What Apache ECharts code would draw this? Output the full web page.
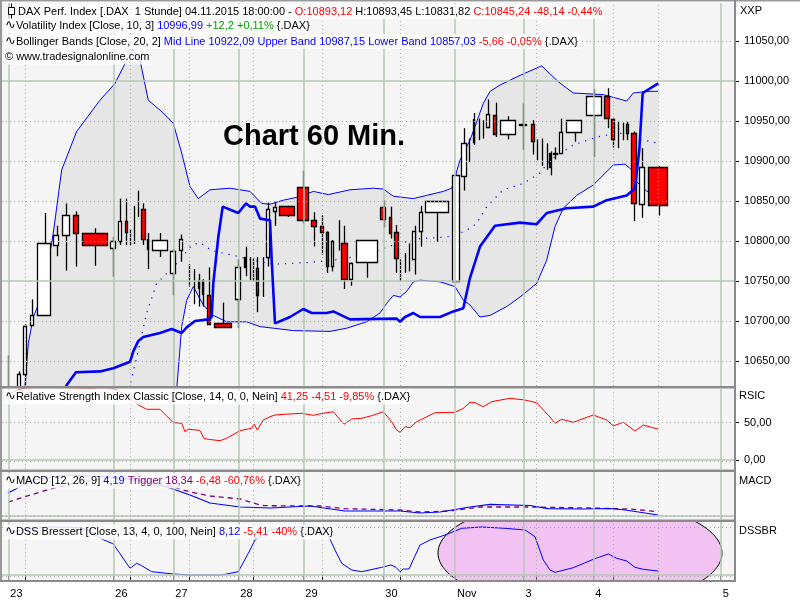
<!DOCTYPE html>
<html><head><meta charset="utf-8">
<script src="https://cdn.jsdelivr.net/npm/echarts@6/dist/echarts.min.js"></script>
<style>html,body{margin:0;padding:0;background:#ffffff}#c{width:800px;height:600px}</style>
</head><body><div id="c"></div><script>
// ---------- X axis (time position on the chart's time scale) ----------
const dayPos = [8.3, 113.3, 173.3, 238.3, 303.3, 383.3, 455, 523.5, 593.3, 720.7];
const dayLabels = ['23', '26', '27', '28', '29', '30', 'Nov', '3', '4', '5'];
const subPos = [25, 130, 189.3, 253.3, 322.3, 400, 536.7, 613.3, 658.3];

// ---------- Candles (60 min DAX) ----------
const barStart = [7.5,16.7,23.3,30.3,37.3,53.3,61.7,72.7,81.7,110.3,118.3,125,129.5,133.8,137.8,141,147,152.3,170.3,179.3,188.8,193.8,197.7,202.3,207.3,214.3,235.3,244.3,249.5,252.8,256,262.2,266,273.3,279.3,297.3,311.3,320,326,331,338.2,341,349.3,356,380.3,389,394,399.8,404.5,408.8,412.3,418.7,425.3,451.7,460.7,468.8,473.3,478.8,482.8,486.3,493.3,500.3,519.3,530.7,536.8,541.8,546.2,549.3,552.7,559.3,566.3,585.7,604.3,611,617.8,622.2,626,631.3,639.3,648.3];
const barEnd   = [8.5,20.7,27.3,34.3,51.7,59.7,69.7,78.7,107.3,116.3,122.3,127.7,130.5,134.8,138.8,145.7,149.3,168.3,176.3,183.3,189.8,194.8,199.7,204.3,211.3,232.3,241.3,246.7,250.5,253.8,258.7,263.2,270.3,277.3,295.7,309.3,317.3,324.3,328.7,333.7,339.2,347.7,353.3,378.3,386.7,392,398.7,400.8,405.5,409.8,416.7,422.7,449.3,459.3,466.7,469.8,475.3,479.8,483.8,490.3,497.7,516.3,527.3,534.3,537.8,542.8,547.2,551.7,557.3,563.3,582.7,601.7,610.7,615.3,618.8,623.2,628.7,637.3,645.3,668.7];
const opens  = [10600,10612,10634,10694,10707,10796,10808,10833,10810,10791,10800,10825,10812,10820,10840,10840,10802,10788,10761,10788,10760,10745,10741,10751,10733,10697,10727,10767,10765,10762,10766,10750,10780,10838,10844,10867,10826,10819,10811,10769,10805,10798,10753,10773,10843,10830,10811,10765,10772,10780,10777,10812,10836,10750,10882,10915,10923,10940,10940,10943,10958,10934,10946,10946,10915,10910,10905,10892,10910.5,10910,10936,10957,10981,10953,10935,10937,10946,10935,10847,10893.12];
const highs  = [10657,10637,10696,10727,10835,10819,10847,10837,10816,10805,10853,10853,10815,10844,10863,10847,10810,10810,10790,10808,10771,10765,10759,10752,10767,10723,10777,10793,10780,10778,10780,10780,10848,10849,10844,10888,10836,10832,10812,10801,10826,10819,10773,10801,10851,10843,10820,10777,10785,10797,10819,10844,10850,10883,10941,10928,10960,10953,10951,10977,10973,10956,10972,10951,10927,10928,10922,10912,10917,10953,10951,10990,10991,10953,10950,10948,10949,10937,10916,10893.45];
const lows   = [10590,10605,10620,10694,10707,10781,10763,10768,10769,10755,10795,10795,10795,10796,10830,10795,10765,10780,10732,10774,10743,10721,10718,10718,10695,10692,10691,10756,10751,10749,10711,10730,10768,10819,10830,10822,10793,10783,10760,10762,10788,10740,10744,10754,10817,10803,10760,10749,10760,10762,10758,10793,10799,10750,10863,10899,10920,10926,10928,10941,10930,10927,10914,10908,10901,10894,10889,10882,10902,10909,10924,10905,10941,10917,10916,10926,10926,10825,10829,10831.82];
const closes = [10608,10634,10694,10707,10797,10808,10833,10810,10795,10800,10825,10811,10813,10821,10841,10802,10789,10801,10788,10802,10759,10746,10751,10734,10697,10692,10767,10780,10766,10763,10732,10751,10840,10843,10833,10826,10819,10811,10768,10800,10806,10753,10773,10801,10828,10810,10778,10766,10773,10781,10812,10836,10850,10882,10923,10916,10952,10941,10941,10959,10934,10951,10946.5,10925,10916,10911,10906,10910,10910.4,10936,10951,10981,10953,10928,10936,10938,10935,10848,10893,10845.24];

// ---------- Bollinger Bands [Close,20,2] ----------
const upperBand = [[25,10618],[28.3,10672],[33.3,10705],[43.3,10735],[53.3,10810],[61.7,10889],[76.7,10937],[100,10976],[115,10997],[126.7,11026],[133,11039],[140,11026],[148.3,10976],[163.3,10960],[173.3,10947],[181.7,10910],[190,10868],[198.3,10853],[210,10864],[230,10866],[250,10862],[261.7,10847],[270,10846],[283.3,10851],[298.3,10855],[313.3,10862],[328.3,10858],[350,10864],[373.3,10866],[383.3,10865],[393.3,10856],[413.3,10853],[426.7,10857],[443.3,10862],[451.7,10866],[460,10901],[470,10926],[476.7,10949],[483.3,10972],[490,10987],[500,10995],[520,11007],[541.7,11019],[558.3,10999],[573.3,10985],[603.3,10983],[626.7,10975],[633.3,10985],[646.7,10987],[658.3,10987.15]];
const lowerBand = [[25,10450],[53,10400],[77,10330],[100,10270],[127,10220],[140,10300],[150,10450],[165,10550],[176.7,10614],[181.7,10693],[186.7,10726],[193.3,10743],[203.3,10720],[213.3,10707],[226.7,10699],[246.7,10699],[260,10693],[273.3,10691],[293.3,10688],[330,10687],[346.7,10691],[366.7,10699],[380,10710],[386.7,10722],[393.3,10732],[400,10730],[406.7,10737],[413.3,10749],[420,10751],[440,10749],[455,10743],[463.3,10726],[470,10720],[480,10705],[490,10707],[506.7,10718],[520,10730],[536.7,10747],[546.7,10776],[555,10818],[563.3,10841],[576.7,10857],[593.3,10870],[613.3,10895],[625,10896],[631.7,10889],[636.7,10874],[647,10862],[658.3,10857.03]];
const midBand = [[120,10590],[130,10620],[140,10672],[146.7,10710],[156.7,10747],[180,10776],[191.7,10795],[200,10798],[211.7,10788],[233.3,10782],[253.3,10776],[273.3,10771],[306.7,10773],[333.3,10776],[353.3,10780],[380,10789],[393.3,10795],[420,10803],[446.7,10805],[465,10812],[476.7,10822],[486.7,10843],[503.3,10864],[523.3,10872],[540,10885],[550,10901],[573.3,10920],[596.7,10930],[613.3,10934],[626.7,10935],[636.7,10928],[658.3,10922.09]];

// ---------- Volatility Index [Close,10,3] ----------
const volIndex = [[8,10540],[60,10600],[66.7,10620],[76,10636],[100,10637],[113.3,10641],[130,10649],[133.3,10662],[138.3,10675],[143.3,10680],[160,10685],[171.7,10690],[181.7,10685],[186.7,10692],[195,10700],[208.3,10702],[211.7,10705],[213.3,10747],[218.3,10805],[222.7,10843],[238.3,10835],[246,10847],[250,10843],[255,10843],[260,10828],[270,10826],[271.7,10776],[275,10697],[290,10705],[303.3,10715],[311.7,10710],[326.7,10710],[333.3,10712],[350,10702],[396.7,10703],[400,10699],[405,10705],[413.3,10710],[420,10705],[440,10705],[453.3,10712],[463.3,10716],[470,10754],[480,10793],[495,10819],[520,10823],[536.7,10821],[546.7,10835],[566.7,10841],[593.3,10843],[606.7,10851],[626.7,10857],[635,10866],[639.3,10914],[642.7,10985],[658.3,10996.99]];

// ---------- RSI Classic [Close,14] ----------
const rsi = [[8,88],[20,95],[30,97],[60,97],[90,96],[105,97],[113,96],[125,88],[138,74],[146.7,68],[160,68],[173.3,50],[181.7,49.2],[185,37.9],[188.3,41.2],[196.7,40.2],[200,39.3],[204,29.1],[208.3,27.7],[220,25.9],[226.7,29.1],[240,39.3],[251.7,42.5],[254,48.3],[257.3,40.2],[263.3,53.6],[270,58],[275,60.3],[285,61.3],[301.7,62.6],[313.3,59.9],[323.3,62.6],[333.3,64.7],[344,47.9],[351.7,55],[361.7,55.9],[371.7,59.4],[383.3,64.7],[391.7,51.3],[396.7,40.2],[400,37.1],[405,44.6],[410,43.3],[416.7,51.3],[435,63.4],[455,63.9],[463.3,69.3],[470,77.3],[475,76.8],[483.3,71.4],[491.7,78.2],[510,82.7],[525,80.4],[536.7,76.8],[543.3,67],[548.3,60.3],[555,49.2],[561.7,54.6],[573.3,50.5],[593.3,60.3],[606.7,53.6],[613.3,45.6],[623.3,50.5],[635,38.9],[643.3,46.9],[658.3,41.25]];

// ---------- MACD [12,26,9] ----------
const macd = [[8,98.7],[33,154.5],[67,176],[110,167.4],[150,145.9],[173,115.9],[190,90.1],[210,55.8],[240,38.6],[270,34.3],[310,42.9],[345,21.5],[400,21.5],[420,12.9],[440,17.2],[470,38.6],[490,50.2],[530,45],[548,31.3],[583,30],[610,32.2],[625,25.8],[645,12.9],[658,4.19]];
const trigger = [[8,60.1],[50,115.9],[80,146],[110,163],[140,160],[173,125],[190,103],[210,85.8],[240,73],[260,47.2],[265,44.2],[320,42.9],[345,31.3],[400,25.8],[420,17.2],[450,21.5],[480,38.6],[530,38.6],[548,37.3],[590,34.3],[630,30],[658,18.34]];

// ---------- DSS Bressert [Close,13,4] ----------
const dss = [[8,85],[25,96],[50,100],[80,99],[90,92],[100,76.5],[113.3,64.6],[130,14],[136.7,24.4],[141.7,19.4],[151.7,6.9],[173.3,2.1],[190,0],[221.7,0],[238.3,6.9],[248.3,45.2],[255,72.9],[263.3,83.3],[270,93.8],[285,100],[300,100],[315,99],[325,97.3],[335,52.1],[341.7,24.4],[351.7,10.4],[361.7,6.9],[381.7,16],[391,20.8],[396,16],[400,6.9],[403.3,12.5],[409,12.5],[420,62.5],[430,72.9],[445,83.3],[461.7,97.3],[481.7,100],[505,97.3],[525,93.8],[530,86.9],[535,79.8],[543.3,31.3],[550,10.4],[555,5.6],[573.3,15.2],[593.3,32.7],[608.3,43.8],[616.7,34.8],[626.7,29.2],[635,16],[643.3,11.9],[658.3,8.12]];
// highlight ellipse in DSS panel: [centre x, centre value, half width (x units), half height (DSS units)]
const dssHighlight = [[580, 45.8, 142, 112.5]];

// ---------- Axis ticks ----------
const priceTicks = [10650,10700,10750,10800,10850,10900,10950,11000,11050];
const priceSolid = [10750, 11000];
const priceDotted = [10650,10700,10800,10850,10900,10950,11050];
const rsiTicks = [0, 50];

// ================= rendering =================
const FONT = 'Liberation Sans';
const X_MIN = 2, X_MAX = 735;
const SOLID = {color:'#b5c7b5', width:1.5, type:'solid'};
const DOT = {color:'#a8a8a8', width:1, type:[1,3]};
const fmt = v => v.toFixed(2).replace('.', ',');

const gridBoxes = [
  {left:2, right:65, top:3, height:383},
  {left:2, right:65, top:389, height:80},
  {left:2, right:65, top:472, height:47.5},
  {left:2, right:65, top:522, height:59}
];
const yRanges = [[10618.75, 11097.5], [-12.06, 95.17], [-15.02, 188.84], [-12.5, 110.42]];

function gridLines(gi, hSolid, hDotted) {
  const d = [];
  dayPos.forEach(v => d.push({xAxis: v, lineStyle: SOLID}));
  subPos.forEach(v => d.push({xAxis: v, lineStyle: DOT}));
  hSolid.forEach(v => d.push({yAxis: v, lineStyle: SOLID}));
  hDotted.forEach(v => d.push({yAxis: v, lineStyle: DOT}));
  return {type:'line', xAxisIndex:gi, yAxisIndex:gi, data:[], z:2, silent:true,
    markLine:{silent:true, symbol:['none','none'], label:{show:false}, emphasis:{disabled:true}, data:d}};
}

function renderCandle(params, api) {
  const x0 = api.value(0), x1 = api.value(1), o = api.value(2), h = api.value(3), l = api.value(4), c = api.value(5);
  const xm = (x0 + x1) / 2;
  const a = api.coord([x0, o]), b = api.coord([x1, c]);
  const ph = api.coord([xm, h]), pl = api.coord([xm, l]);
  const cx = Math.round(ph[0]) + 0.5;
  const top = Math.min(a[1], b[1]), bot = Math.max(a[1], b[1]);
  const w = b[0] - a[0];
  const ch = [{type:'line', shape:{x1:cx, y1:ph[1], x2:cx, y2:pl[1]}, style:{stroke:'#000', lineWidth:1.3}}];
  if (w >= 2) {
    ch.push({type:'rect', shape:{x:Math.round(a[0]) + 0.5, y:Math.round(top) + 0.5,
      width:Math.max(Math.round(w) - 1, 1), height:Math.max(Math.round(bot - top), 1)},
      style:{fill: c >= o ? '#ffffff' : '#ff0000', stroke:'#000', lineWidth:1.3}});
  }
  const cs = params.coordSys;
  return {type:'group', children:ch, clipPath:{type:'rect', shape:{x:cs.x, y:cs.y, width:cs.width, height:cs.height}}};
}

function renderBand(params, api) {
  const pts = upperBand.map(p => api.coord(p)).concat(lowerBand.slice().reverse().map(p => api.coord(p)));
  const cs = params.coordSys;
  return {type:'group', clipPath:{type:'rect', shape:{x:cs.x, y:cs.y, width:cs.width, height:cs.height}},
    children:[{type:'polygon', shape:{points:pts}, style:{fill:'#e6e6e6'}}]};
}

function renderEllipse(params, api) {
  const c = api.coord([api.value(0), api.value(1)]);
  const s = api.size([api.value(2), api.value(3)]);
  const pts = [];
  for (let i = 0; i < 120; i++) {
    const t = i / 120 * Math.PI * 2;
    pts.push([c[0] + s[0] * Math.cos(t), c[1] + s[1] * Math.sin(t)]);
  }
  const cs = params.coordSys;
  return {type:'group', clipPath:{type:'rect', shape:{x:cs.x, y:cs.y, width:cs.width, height:cs.height}},
    children:[{type:'polygon', shape:{points:pts}, style:{fill:'rgba(238,130,238,0.43)', stroke:'#000', lineWidth:1}}]};
}

const lineS = (gi, data, color, width, type, z) => ({type:'line', xAxisIndex:gi, yAxisIndex:gi, data, symbol:'none', showSymbol:false,
  lineStyle:{color, width, type: type || 'solid'}, z: z || 3, silent:true, clip:true});

const candleData = barStart.map((s, i) => [s, barEnd[i], opens[i], highs[i], lows[i], closes[i]]);

const richBase = {fontFamily:FONT, fontSize:11};
const rich = {
  i:{fontFamily:'DejaVu Sans', fontSize:13, color:'#000'},
  r:Object.assign({color:'#ff0000'}, richBase),
  b:Object.assign({color:'#0000ff'}, richBase),
  g:Object.assign({color:'#00a000'}, richBase),
  p:Object.assign({color:'#800080'}, richBase)
};
const hdr = (left, top, text) => ({left, top, text, padding:[1,2,1,1], backgroundColor:'rgba(255,255,255,0.82)',
  textStyle:{fontFamily:FONT, fontSize:11, fontWeight:'normal', color:'#000', lineHeight:13, rich}});

const option = {
  animation:false,
  backgroundColor:'#ffffff',
  grid: gridBoxes.map(g => Object.assign({show:true, backgroundColor:'#f5f5f5', borderWidth:0}, g)),
  xAxis: [0,1,2,3].map(i => ({
    type:'value', gridIndex:i, min:X_MIN, max:X_MAX,
    axisLine:{show:false}, splitLine:{show:false},
    axisTick:{show:i===3, customValues:dayPos.concat(subPos), length:5, lineStyle:{color:'#222', width:1}},
    axisLabel:{show:i===3, customValues:dayPos, align:'left', margin:7, padding:[0,0,0,2], color:'#000', fontFamily:FONT, fontSize:11,
      formatter: v => { let k = 0, best = 1e9; dayPos.forEach((p, j) => { if (Math.abs(p - v) < best) { best = Math.abs(p - v); k = j; } }); return dayLabels[k]; }}
  })),
  yAxis: [0,1,2,3].map(i => ({
    type:'value', gridIndex:i, position:'right', min:yRanges[i][0], max:yRanges[i][1],
    axisLine:{show:false}, splitLine:{show:false},
    axisTick:{show:i<2, customValues: i===0 ? priceTicks : rsiTicks, length:4, lineStyle:{color:'#000'}},
    axisLabel:{show:i<2, customValues: i===0 ? priceTicks : rsiTicks, formatter:fmt, margin:9, color:'#000', fontFamily:FONT, fontSize:11}
  })),
  title: [
    hdr(17, 4, 'DAX Perf. Index [.DAX  1 Stunde] 04.11.2015 18:00:00 - {r|O:10893,12} H:10893,45 L:10831,82 {r|C:10845,24 -48,14 -0,44%}'),
    hdr(4, 18.5, '{i|∿}Volatility Index [Close, 10, 3] {b|10996,99}{g| +12,2 +0,11%} {.DAX}'),
    hdr(4, 34, '{i|∿}Bollinger Bands [Close, 20, 2] {b|Mid Line 10922,09 Upper Band 10987,15 Lower Band 10857,03}{r| -5,66 -0,05%} {.DAX}'),
    hdr(4, 49.5, '© www.tradesignalonline.com'),
    hdr(4, 389.5, '{i|∿}Relative Strength Index Classic [Close, 14, 0, 0, Nein] {r|41,25 -4,51 -9,85%} {.DAX}'),
    hdr(4, 473.5, '{i|∿}MACD [12, 26, 9] {b|4,19}{p| Trigger 18,34}{r| -6,48 -60,76%} {.DAX}'),
    hdr(4, 524.5, '{i|∿}DSS Bressert [Close, 13, 4, 0, 100, Nein] {b|8,12}{r| -5,41 -40%} {.DAX}')
  ],
  series: [
    {type:'custom', xAxisIndex:0, yAxisIndex:0, z:1, silent:true, renderItem:renderBand, data:[[300, 10800]], clip:true},
    {type:'custom', xAxisIndex:3, yAxisIndex:3, z:1, silent:true, renderItem:renderEllipse, data:dssHighlight, clip:true},
    gridLines(0, priceSolid, priceDotted),
    gridLines(1, [0], [50, -1.4]),
    gridLines(2, [0], [-2]),
    gridLines(3, [0], [100, -2]),
    lineS(0, upperBand, '#0000ff', 1),
    lineS(0, lowerBand, '#0000ff', 1),
    lineS(0, midBand, '#0000ff', 1.2, [1.2, 6]),
    {type:'custom', xAxisIndex:0, yAxisIndex:0, z:4, silent:true, renderItem:renderCandle, data:candleData, clip:true,
      encode:{x:[0,1], y:[2,3,4,5]}},
    lineS(0, volIndex, '#0000ff', 2.6, 'solid', 5),
    lineS(1, rsi, '#ff0000', 1),
    lineS(2, trigger, '#800080', 1.3, [5,4]),
    lineS(2, macd, '#0000ff', 1.2),
    lineS(3, dss, '#0000ff', 1)
  ],
  graphic: [
    // panel frames
    {type:'rect', shape:{x:0, y:0, width:800, height:1.5}, style:{fill:'#999'}, z:100},
    {type:'rect', shape:{x:0, y:0, width:2, height:582}, style:{fill:'#999'}, z:100},
    {type:'rect', shape:{x:734, y:0, width:2, height:582}, style:{fill:'#8a8a8a'}, z:100},
    {type:'rect', shape:{x:0, y:386, width:736, height:2.5}, style:{fill:'#8a8a8a'}, z:100},
    {type:'rect', shape:{x:0, y:469.5, width:736, height:2.5}, style:{fill:'#8a8a8a'}, z:100},
    {type:'rect', shape:{x:0, y:519.5, width:736, height:2.5}, style:{fill:'#8a8a8a'}, z:100},
    {type:'rect', shape:{x:0, y:580, width:736, height:2}, style:{fill:'#8a8a8a'}, z:100},
    // candle icon of first header line
    {type:'line', shape:{x1:11.5, y1:3.5, x2:11.5, y2:18.5}, style:{stroke:'#000', lineWidth:1}, z:110},
    {type:'rect', shape:{x:8.5, y:7.5, width:6, height:7}, style:{fill:'#fff', stroke:'#000', lineWidth:1}, z:111},
    // panel names
    {type:'text', x:740, y:11, style:{text:'XXP', font:'11px ' + FONT, fill:'#000', verticalAlign:'middle'}, z:110},
    {type:'text', x:739, y:396, style:{text:'RSIC', font:'11px ' + FONT, fill:'#000', verticalAlign:'middle'}, z:110},
    {type:'text', x:739, y:480.5, style:{text:'MACD', font:'11px ' + FONT, fill:'#000', verticalAlign:'middle'}, z:110},
    {type:'text', x:739, y:530.5, style:{text:'DSSBR', font:'11px ' + FONT, fill:'#000', verticalAlign:'middle'}, z:110},
    // chart annotation
    {type:'text', x:223, y:137, style:{text:'Chart 60 Min.', font:'bold 29px ' + FONT, fill:'#000', verticalAlign:'middle'}, z:110}
  ]
};
const chart = echarts.init(document.getElementById('c'), null, {renderer:'canvas'});
chart.setOption(option);
</script></body></html>
